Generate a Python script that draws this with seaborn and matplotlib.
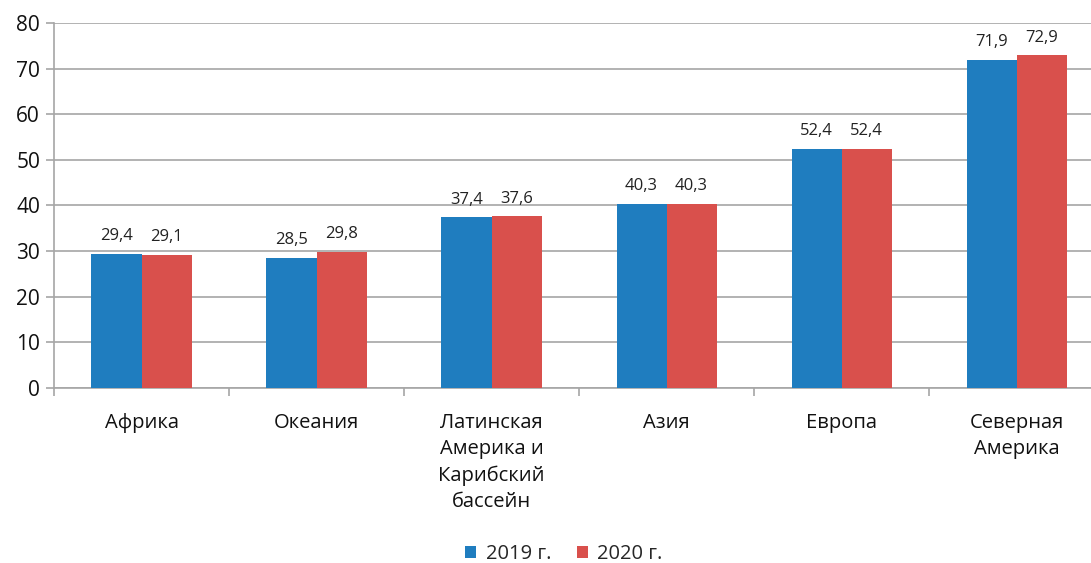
import pandas as pd
import matplotlib
matplotlib.use("Agg")
import matplotlib.pyplot as plt
import seaborn as sns
import numpy as np

regions = ["Африка", "Океания", "Латинская\nАмерика и\nКарибский\nбассейн",
           "Азия", "Европа", "Северная\nАмерика"]
years = ["2019 г.", "2020 г."]
vals_2019 = [29.4, 28.5, 37.4, 40.3, 52.4, 71.9]
vals_2020 = [29.1, 29.8, 37.6, 40.3, 52.4, 72.9]

df = pd.DataFrame({
    "region": regions * 2,
    "year": [years[0]] * len(regions) + [years[1]] * len(regions),
    "value": vals_2019 + vals_2020,
})

sns.set_style("white")
plt.rcParams['font.family'] = ['Open Sans', 'DejaVu Sans']

fig = plt.figure(figsize=(10.91, 5.63), dpi=100)
# plot area runs slightly past the right edge, as in the original crop
ax = fig.add_axes([0.0495, 0.311, 0.9625, 0.648])

palette = {years[0]: "#1F7DBF", years[1]: "#D9504C"}
sns.barplot(data=df, x="region", y="value", hue="year", palette=palette,
            width=0.572, gap=0, saturation=1, linewidth=0, ax=ax, zorder=3)

for c in ax.containers:
    ax.bar_label(c, labels=[f"{v:.1f}".replace(".", ",") for v in c.datavalues],
                 padding=7, fontsize=12, color="#222222")

ax.set_ylim(0, 80)
ax.set_xlim(-0.5, len(regions) - 0.5)
ax.set_yticks(range(0, 81, 10))
ax.yaxis.grid(True, color="#a6a6a6", lw=1.2, zorder=0)
ax.set_axisbelow(True)

ax.set_xticks(np.arange(len(regions)))
ax.set_xticklabels(regions, linespacing=1.4)
ax.set_xticks(np.arange(-0.5, len(regions)), minor=True)
ax.tick_params(axis="x", which="both", bottom=True)
ax.tick_params(axis="x", which="major", length=0, pad=18, labelsize=14.5, labelcolor="#111111")
ax.tick_params(axis="x", which="minor", length=6, width=1.2, color="#a6a6a6", direction="out")
ax.tick_params(axis="y", left=True, length=6, width=1.2, color="#a6a6a6",
               labelsize=15, pad=4, labelcolor="#111111")

for s in ["top", "right"]:
    ax.spines[s].set_visible(False)
for s in ["left", "bottom"]:
    ax.spines[s].set_color("#a6a6a6")
    ax.spines[s].set_linewidth(1.2)

ax.set_xlabel("")
ax.set_ylabel("")

handles, labels = ax.get_legend_handles_labels()
ax.get_legend().remove()
fig.legend(handles, labels, loc="center", bbox_to_anchor=(0.517, 0.016), ncol=2, frameon=False,
           fontsize=14.5, handlelength=0.55, handleheight=0.55, handletextpad=0.45,
           columnspacing=1.3)

fig.savefig("out.png", dpi=100)
